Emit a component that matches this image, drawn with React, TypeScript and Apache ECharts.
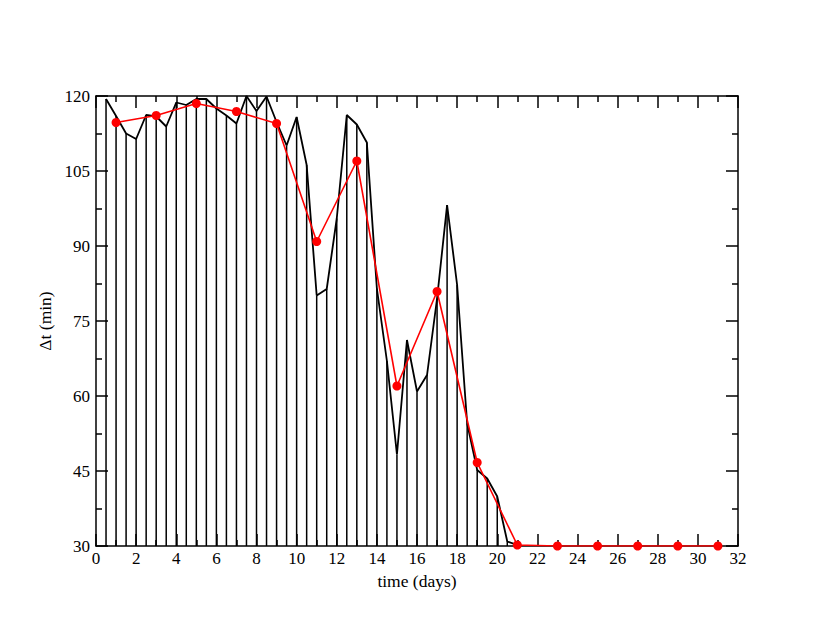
import React, { useEffect, useRef } from "react";
import * as echarts from "echarts";

const blackX = [0.5, 1, 1.5, 2, 2.5, 3, 3.5, 4, 4.5, 5, 5.5, 6, 6.5, 7, 7.5, 8, 8.5, 9, 9.5, 10, 10.5, 11, 11.5, 12, 12.5, 13, 13.5, 14, 14.5, 15, 15.5, 16, 16.5, 17, 17.5, 18, 18.5, 19, 19.5, 20, 20.5, 21];
const blackY = [119.4, 116, 112.5, 111.4, 116.2, 115.9, 113.9, 118.7, 118.2, 119.4, 119.4, 117.5, 116.1, 114.5, 120, 117, 119.9, 114.8, 110.1, 115.8, 106.2, 80.1, 81.4, 95.5, 116.2, 114.3, 110.7, 81.5, 67, 48.3, 71.2, 60.9, 64.2, 79.5, 98.2, 82.2, 54.5, 45.2, 43.5, 39.9, 30.9, 30.2];
const redX = [1, 3, 5, 7, 9, 11, 13, 15, 17, 19, 21, 23, 25, 27, 29, 31];
const redY = [114.7, 116.1, 118.5, 116.9, 114.5, 90.9, 107, 62, 80.9, 46.7, 30.2, 30, 30, 30, 30, 30];

const FONT = "Liberation Serif";

export default function App() {
  const ref = useRef<HTMLDivElement>(null);
  useEffect(() => {
    if (!ref.current) return;
    const chart = echarts.init(ref.current, null, { renderer: "svg" });
    const blackData = blackX.map((x, i) => [x, blackY[i]]);
    const redData = redX.map((x, i) => [x, redY[i]]);
    const axisLine = { show: true, onZero: false, lineStyle: { color: "#000", width: 1.5 } };
    const tickStyle = { color: "#000", width: 1.5 };
    const labelStyle = { fontFamily: FONT, fontSize: 17, color: "#000" };
    const xCommon = {
      type: "value" as const,
      min: 0,
      max: 32,
      interval: 2,
      splitLine: { show: false },
      axisLine,
      axisTick: { show: true, inside: true, length: 12, lineStyle: tickStyle },
      minorTick: { show: true, splitNumber: 2, length: 6, lineStyle: tickStyle },
    };
    const yCommon = {
      type: "value" as const,
      min: 30,
      max: 120,
      interval: 15,
      splitLine: { show: false },
      axisLine,
      axisTick: { show: true, inside: true, length: 12, lineStyle: tickStyle },
      minorTick: { show: true, splitNumber: 2, length: 6, lineStyle: tickStyle },
    };
    chart.setOption({
      animation: false,
      backgroundColor: "#fff",
      textStyle: { fontFamily: FONT },
      grid: { left: 96, right: 92, top: 96, bottom: 96 },
      xAxis: [
        {
          ...xCommon,
          position: "bottom",
          name: "time (days)",
          nameLocation: "middle",
          nameGap: 22,
          nameTextStyle: { fontFamily: FONT, fontSize: 17.5, color: "#000" },
          axisLabel: { ...labelStyle, margin: 4 },
        },
        { ...xCommon, position: "top", axisLabel: { show: false } },
      ],
      yAxis: [
        {
          ...yCommon,
          position: "left",
          name: "Δt (min)",
          nameLocation: "middle",
          nameGap: 39,
          nameTextStyle: { fontFamily: FONT, fontSize: 17.5, color: "#000" },
          axisLabel: { ...labelStyle, margin: 6 },
        },
        { ...yCommon, position: "right", axisLabel: { show: false } },
      ],
      series: [
        {
          type: "custom",
          xAxisIndex: 0,
          yAxisIndex: 0,
          data: blackData,
          renderItem: (params: any, api: any) => {
            const top = api.coord([api.value(0), api.value(1)]);
            const bottom = api.coord([api.value(0), 30]);
            return {
              type: "line",
              shape: { x1: top[0], y1: top[1], x2: bottom[0], y2: bottom[1] },
              style: { stroke: "#000", lineWidth: 1.5 },
            };
          },
          z: 1,
        },
        {
          type: "line",
          data: blackData,
          showSymbol: false,
          symbol: "none",
          lineStyle: { color: "#000", width: 1.8 },
          z: 2,
        },
        {
          type: "line",
          data: redData,
          symbol: "circle",
          symbolSize: 9,
          itemStyle: { color: "#ff0000" },
          lineStyle: { color: "#ff0000", width: 1.6 },
          z: 3,
        },
      ],
    });
    return () => chart.dispose();
  }, []);
  return <div ref={ref} style={{ width: 830, height: 642, margin: -8 }} />;
}
